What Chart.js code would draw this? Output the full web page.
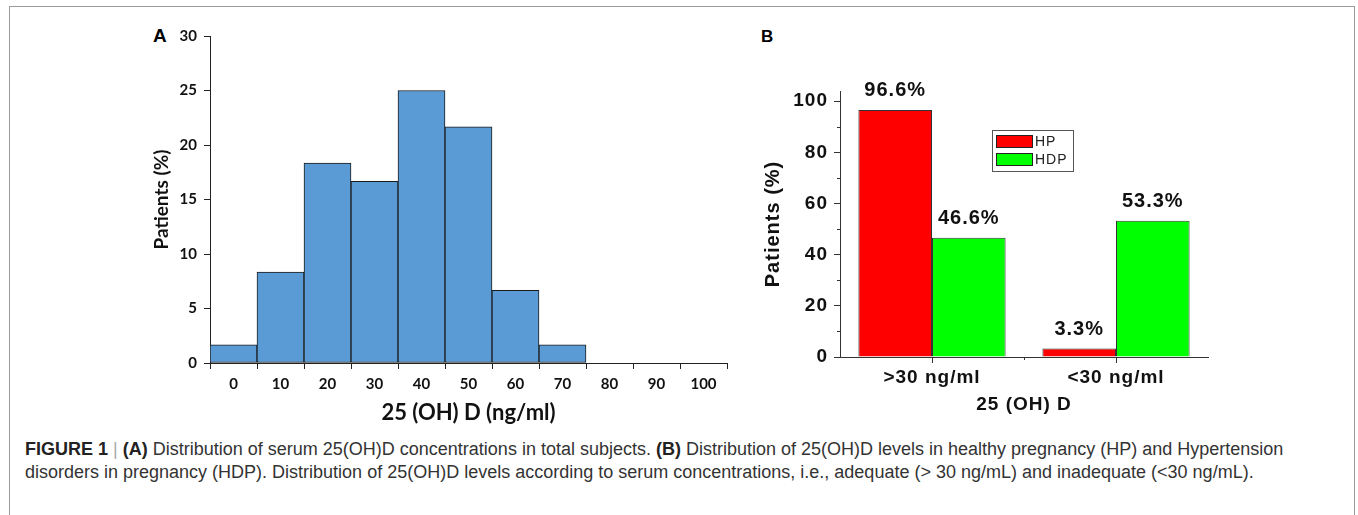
<!DOCTYPE html>
<html>
<head>
<meta charset="utf-8">
<script src="https://cdn.jsdelivr.net/npm/chart.js@4.4.1/dist/chart.umd.min.js"></script>
<style>
  html, body { margin: 0; padding: 0; background: #fff; width: 1358px; height: 515px; overflow: hidden; position: relative; }
  #frame { position: absolute; left: 9px; top: 6px; width: 1346px; height: 520px; border-left: 1px solid #9a9a9a; border-top: 1px solid #9a9a9a; border-right: 1px solid #9a9a9a; box-sizing: border-box; }
  canvas { position: absolute; }
  #cA { left: 140px; top: 20px; }
  #cB { left: 750px; top: 20px; }
  .plabel { position: absolute; font-family: "Liberation Sans", Arial, sans-serif; font-weight: bold; color: #000; }
  #lblA { left: 153px; top: 25px; font-size: 19px; }
  #lblB { left: 761px; top: 27px; font-size: 17px; }
  #caption { position: absolute; left: 25px; top: 438px; font-family: "Liberation Sans", Arial, sans-serif; font-size: 18px; line-height: 23px; color: #333; white-space: nowrap; }
  #caption b { color: #222; }
  .sep { color: #aaa; }
</style>
</head>
<body>
<div id="frame"></div>
<div class="plabel" id="lblA">A</div>
<div class="plabel" id="lblB">B</div>
<canvas id="cA" width="600" height="410"></canvas>
<canvas id="cB" width="470" height="400"></canvas>
<div id="caption"><b>FIGURE 1</b> <span class="sep">|</span> <b>(A)</b> Distribution of serum 25(OH)D concentrations in total subjects. <b>(B)</b> Distribution of 25(OH)D levels in healthy pregnancy (HP) and Hypertension<br>disorders in pregnancy (HDP). Distribution of 25(OH)D levels according to serum concentrations, i.e., adequate (&gt; 30 ng/mL) and inadequate (&lt;30 ng/mL).</div>
<script>
// ---------- Data: panel A (histogram) ----------
const binLabels = ['0', '10', '20', '30', '40', '50', '60', '70', '80', '90', '100'];
const patientsPct = [1.67, 8.33, 18.33, 16.67, 25.0, 21.67, 6.67, 1.67, 0, 0, 0];
const yTicksA = { min: 0, max: 30, step: 5 };

// ---------- Data: panel B (grouped bars) ----------
const groupLabels = ['>30 ng/ml', '<30 ng/ml'];
const hpValues = [96.6, 3.3];
const hdpValues = [46.6, 53.3];
const seriesNames = ['HP', 'HDP'];
const yTicksB = { min: 0, max: 104, step: 20, minorStep: 10 };

// ---------- Panel A ----------
const fontA = 'Lato, "Open Sans", sans-serif';
const axisCol = '#222';
new Chart(document.getElementById('cA'), {
  type: 'bar',
  data: {
    labels: binLabels,
    datasets: [{
      data: patientsPct,
      backgroundColor: '#5B9BD5',
      borderColor: '#1a1a1a',
      borderWidth: 1,
      borderSkipped: false,
      barPercentage: 1.0,
      categoryPercentage: 1.0
    }]
  },
  options: {
    responsive: false,
    animation: false,
    layout: { padding: { left: 0, right: 13, top: 16, bottom: 0 } },
    plugins: { legend: { display: false }, tooltip: { enabled: false } },
    scales: {
      x: {
        type: 'category',
        offset: true,
        grid: { offset: true, drawOnChartArea: false, drawTicks: true, tickLength: 6, color: axisCol, tickColor: axisCol },
        border: { display: true, color: axisCol, width: 1 },
        ticks: { color: '#111', font: { family: fontA, weight: 'bold', size: 15 }, padding: 6, maxRotation: 0, autoSkip: false },
        title: { display: true, text: '25 (OH) D (ng/ml)', color: '#111', font: { family: fontA, weight: 'bold', size: 22, lineHeight: 1 }, padding: { top: 0, bottom: 6 } },
        afterFit: (s) => { s.height = 67; }
      },
      y: {
        min: yTicksA.min, max: yTicksA.max,
        grid: { drawOnChartArea: false, drawTicks: true, tickLength: 6, color: axisCol, tickColor: axisCol },
        border: { display: true, color: axisCol, width: 1 },
        ticks: { stepSize: yTicksA.step, color: '#111', font: { family: fontA, weight: 'bold', size: 15 }, padding: 7 },
        title: { display: true, text: 'Patients (%)', color: '#111', font: { family: fontA, weight: 'bold', size: 19, lineHeight: 1 }, padding: { top: 12, bottom: 0 } },
        afterFit: (s) => { s.width = 70; }
      }
    }
  }
});

// ---------- Panel B ----------
const fontB = '"Liberation Sans", Arial, sans-serif';
const spacingPlugin = {
  id: 'spacing',
  beforeUpdate(chart) { chart.ctx.letterSpacing = '1px'; },
  beforeLayout(chart) { chart.ctx.letterSpacing = '1px'; },
  beforeDraw(chart) { chart.ctx.letterSpacing = '1px'; }
};
const extrasPlugin = {
  id: 'extras',
  afterDraw(chart) {
    const ctx = chart.ctx;
    const ys = chart.scales.y, xs = chart.scales.x;
    const area = chart.chartArea;
    ctx.save();
    ctx.strokeStyle = '#333';
    ctx.lineWidth = 1;
    // minor y ticks
    for (let v = yTicksB.min + yTicksB.minorStep; v < yTicksB.max; v += 2 * yTicksB.minorStep) {
      const py = Math.round(ys.getPixelForValue(v)) + 0.5;
      ctx.beginPath(); ctx.moveTo(area.left - 3, py); ctx.lineTo(area.left, py); ctx.stroke();
    }
    // minor x ticks between categories
    for (let i = 0; i < groupLabels.length - 1; i++) {
      const px = Math.round((xs.getPixelForValue(i) + xs.getPixelForValue(i + 1)) / 2) + 0.5;
      ctx.beginPath(); ctx.moveTo(px, area.bottom); ctx.lineTo(px, area.bottom + 3); ctx.stroke();
    }
    // value labels
    ctx.letterSpacing = '1px';
    ctx.fillStyle = '#111';
    ctx.font = 'bold 20px ' + fontB;
    ctx.textAlign = 'center';
    ctx.textBaseline = 'middle';
    chart.data.datasets.forEach((ds, di) => {
      chart.getDatasetMeta(di).data.forEach((el, i) => {
        ctx.fillText(ds.data[i].toFixed(1) + '%', el.x, el.y - 19);
      });
    });
    // legend box inside plot
    const lx = area.left + 152, ly = area.top + 39, lw = 81, lh = 41;
    ctx.fillStyle = '#fff';
    ctx.fillRect(lx, ly, lw, lh);
    ctx.strokeStyle = '#555';
    ctx.strokeRect(lx + 0.5, ly + 0.5, lw, lh);
    ctx.font = '14px ' + fontB;
    ctx.textAlign = 'left';
    chart.data.datasets.forEach((ds, di) => {
      const sy = ly + 5 + di * 18;
      ctx.fillStyle = ds.backgroundColor;
      ctx.fillRect(lx + 4, sy, 36, 12);
      ctx.strokeStyle = '#222';
      ctx.strokeRect(lx + 4.5, sy + 0.5, 36, 12);
      ctx.fillStyle = '#222';
      ctx.fillText(ds.label, lx + 43, sy + 7);
    });
    ctx.restore();
  }
};
new Chart(document.getElementById('cB'), {
  type: 'bar',
  data: {
    labels: groupLabels,
    datasets: [
      { label: seriesNames[0], data: hpValues, backgroundColor: '#FF0000', borderColor: '#333', borderWidth: 1, borderSkipped: 'bottom', barPercentage: 1.0, categoryPercentage: 0.8 },
      { label: seriesNames[1], data: hdpValues, backgroundColor: '#00FF00', borderColor: '#333', borderWidth: 1, borderSkipped: 'bottom', barPercentage: 1.0, categoryPercentage: 0.8 }
    ]
  },
  plugins: [spacingPlugin, extrasPlugin],
  options: {
    responsive: false,
    animation: false,
    layout: { padding: { left: 0, right: 12, top: 71, bottom: 0 } },
    plugins: { legend: { display: false }, tooltip: { enabled: false } },
    scales: {
      x: {
        type: 'category',
        offset: true,
        grid: { offset: false, drawOnChartArea: false, drawTicks: true, tickLength: 6, color: '#333', tickColor: '#333' },
        border: { display: true, color: '#333', width: 1 },
        ticks: { color: '#111', font: { family: fontB, weight: 'bold', size: 19 }, padding: 3, maxRotation: 0, autoSkip: false },
        title: { display: true, text: '25 (OH) D', color: '#111', font: { family: fontB, weight: 'bold', size: 19, lineHeight: 1 }, padding: { top: 0, bottom: 6 } },
        afterFit: (s) => { s.height = 63; }
      },
      y: {
        min: yTicksB.min, max: yTicksB.max,
        grid: { drawOnChartArea: false, drawTicks: true, tickLength: 6, color: '#333', tickColor: '#333' },
        border: { display: true, color: '#333', width: 1 },
        ticks: { stepSize: yTicksB.step, includeBounds: false, color: '#111', font: { family: fontB, weight: 'bold', size: 19 }, padding: 6 },
        title: { display: true, text: 'Patients (%)', color: '#111', font: { family: fontB, weight: 'bold', size: 20, lineHeight: 1 }, padding: { top: 13, bottom: 0 } },
        afterFit: (s) => { s.width = 90; }
      }
    }
  }
});
</script>
</body>
</html>
